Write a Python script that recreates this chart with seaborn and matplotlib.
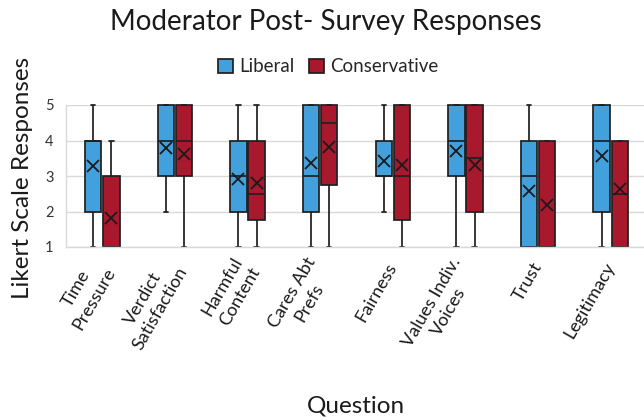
import numpy as np
import pandas as pd
import matplotlib
matplotlib.use("Agg")
import matplotlib.pyplot as plt
import seaborn as sns

# Survey questions (x-axis categories) and respondent groups
questions = [
    "Time\nPressure", "Verdict\nSatisfaction", "Harmful\nContent",
    "Cares Abt\nPrefs", "Fairness", "Values Indiv.\nVoices", "Trust",
    "Legitimacy",
]
groups = ["Liberal", "Conservative"]
likert_levels = [1, 2, 3, 4, 5]

# Number of moderators choosing each Likert level (1..5), per question
liberal_counts = [
    [2, 3, 1, 5, 3],   # Time Pressure
    [0, 2, 4, 3, 5],   # Verdict Satisfaction
    [3, 2, 4, 3, 2],   # Harmful Content
    [1, 4, 3, 1, 5],   # Cares Abt Prefs
    [0, 2, 6, 4, 2],   # Fairness
    [1, 1, 4, 3, 5],   # Values Indiv. Voices
    [6, 0, 3, 4, 1],   # Trust
    [1, 4, 0, 4, 5],   # Legitimacy
]
conservative_counts = [
    [9, 2, 4, 1, 0],   # Time Pressure
    [3, 0, 2, 6, 5],   # Verdict Satisfaction
    [4, 4, 2, 3, 3],   # Harmful Content
    [1, 3, 2, 2, 8],   # Cares Abt Prefs
    [4, 1, 4, 0, 7],   # Fairness
    [3, 2, 3, 3, 5],   # Values Indiv. Voices
    [9, 0, 2, 5, 0],   # Trust
    [5, 3, 1, 7, 0],   # Legitimacy
]

group_colors = ["#42A0DC", "#A8192E"]

# Long-form table of individual responses
rows = []
for group, counts in zip(groups, [liberal_counts, conservative_counts]):
    for q, c in zip(questions, counts):
        for level in np.repeat(likert_levels, c):
            rows.append((q, group, level))
df = pd.DataFrame(rows, columns=["Question", "Group", "Response"])

sns.set_theme(style="white")
plt.rcParams["font.family"] = ["Lato", "DejaVu Sans"]

fig = plt.figure(figsize=(6.44, 4.20), dpi=100)
ax = fig.add_axes([66 / 644, 173 / 420, 581 / 644, 142 / 420])

sns.boxplot(
    data=df, x="Question", y="Response", hue="Group",
    order=questions, hue_order=groups, palette=group_colors,
    saturation=1, width=0.5, gap=0.1, whis=(0, 100),
    linecolor="#1f1f1f", linewidth=1.25, capwidths=0.06,
    showmeans=True,
    meanprops=dict(marker="x", markeredgecolor="#1a1a1a",
                   markerfacecolor="#1a1a1a", markersize=8.5,
                   markeredgewidth=1.3),
    ax=ax,
)

ax.set_ylim(1, 5)
ax.set_xlim(-0.5, len(questions) - 0.5)
ax.set_yticks(likert_levels)
ax.yaxis.grid(True, color="#d9d9d9", linewidth=1)
ax.set_axisbelow(True)
for side in ["top", "right"]:
    ax.spines[side].set_visible(False)
for side in ["left", "bottom"]:
    ax.spines[side].set_color("#d9d9d9")
    ax.spines[side].set_linewidth(1)

for artist in list(ax.patches) + list(ax.lines):
    artist.set_clip_on(False)

ax.tick_params(axis="y", length=0, pad=9, labelsize=10.5, labelcolor="#333333")
ax.tick_params(axis="x", length=0, pad=12, labelsize=13, labelcolor="#1a1a1a")
ax.set_xticks(range(len(questions)))
ax.set_xticklabels(questions, rotation=60, ha="right", va="center",
                   rotation_mode="anchor", multialignment="center",
                   linespacing=1.3)

ax.set_ylabel("Likert Scale Responses", fontsize=17.5, color="#1a1a1a")
ax.yaxis.set_label_coords(33 / 644, 1 - 178 / 420, transform=fig.transFigure)
ax.set_xlabel("Question", fontsize=17.5, color="#1a1a1a")
ax.xaxis.set_label_coords(356 / 644, 1 - 395 / 420, transform=fig.transFigure)

fig.suptitle("Moderator Post- Survey Responses", x=0.506, y=1 - 30 / 420,
             va="baseline", fontsize=20, color="#1a1a1a")

sns.move_legend(ax, "center", bbox_to_anchor=(328 / 644, 1 - 67 / 420),
                bbox_transform=fig.transFigure, ncol=2, title=None,
                frameon=False, fontsize=13.5, handlelength=0.8,
                handleheight=0.8, handletextpad=0.35, columnspacing=0.75)

fig.savefig("out.png", dpi=100)
